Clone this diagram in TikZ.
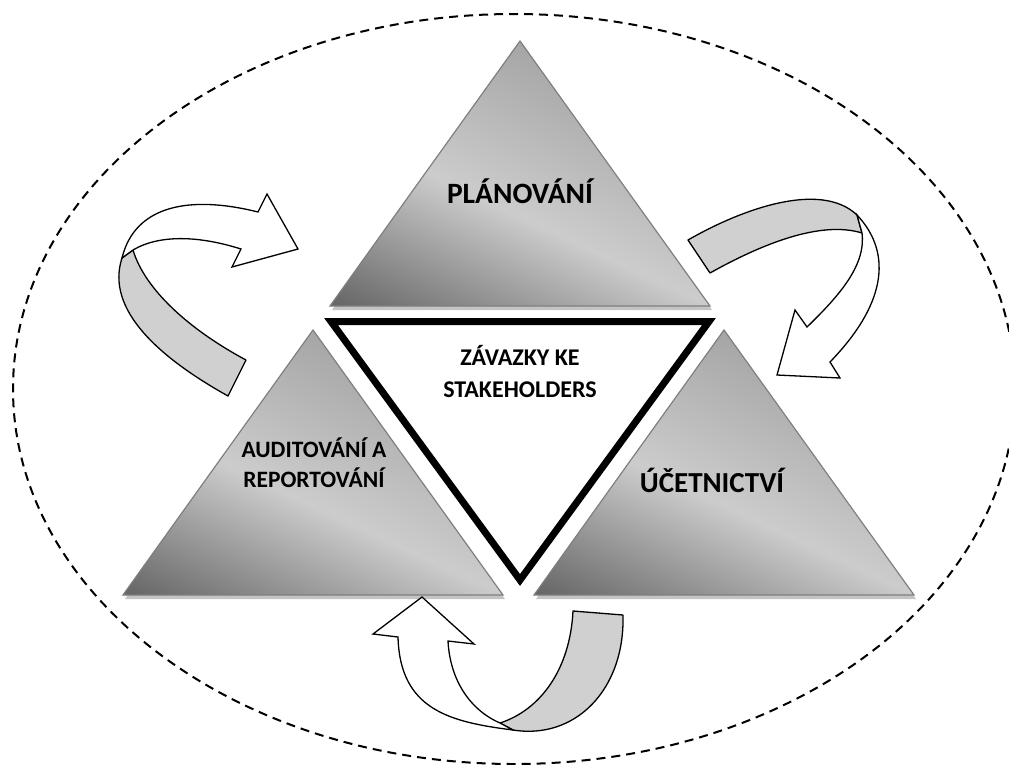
\documentclass[tikz,border=0pt]{standalone}
\usepackage{fontspec}
\setmainfont{Carlito}
\definecolor{tdark}{HTML}{626262}
\definecolor{tlight}{HTML}{CCCCCC}
\definecolor{tmid}{HTML}{A4A4A4}
\definecolor{tedge}{HTML}{7F7F7F}
\definecolor{tshadow}{HTML}{C4C4C4}
\definecolor{bandgray}{HTML}{D0D0D0}
\begin{document}
\begin{tikzpicture}[x=1pt,y=-1pt,
  trishadow/.style={fill=tshadow},
  triedge/.style={draw=tedge, line width=1.2pt, line join=miter},
  band/.style={fill=bandgray, draw=black, line width=1.3pt, line join=round},
  head/.style={fill=white, draw=black, line width=1.3pt, line join=miter},
  lbl/.style={align=center, text=black, inner sep=0pt, anchor=base}
]
\useasboundingbox (0,0) rectangle (1009,764);

% shaded triangle: #1 = bottom-left x, #2 = base y
\newcommand{\gradtri}[2]{%
  \fill[trishadow] ({#1+192},{#2-261}) -- ({#1+382},{#2+4}) -- ({#1+2},{#2+4}) -- cycle;
  \begin{scope}
    \clip ({#1+190},{#2-265}) -- ({#1+380},#2) -- (#1,#2) -- cycle;
    \shade[transform canvas={rotate around={-25:(#1,#2)}},
      bottom color=tdark, top color=tmid, middle color=tlight]
      ({#1-400},{#2+3}) rectangle ({#1+600},{#2-326});
  \end{scope}
  \draw[triedge] ({#1+190},{#2-265}) -- ({#1+380},#2) -- (#1,#2) -- cycle;
}

% dashed ellipse
\draw[line width=2pt, dash pattern=on 9pt off 6pt] (514,389) ellipse [x radius=501, y radius=375];

% gradient triangles
\gradtri{330}{306}
\gradtri{123}{595}
\gradtri{534}{595}

% central inverted triangle
\draw[fill=white, line width=7pt, line join=miter] (331,321.5) -- (709,321.5) -- (520,580) -- cycle;

% labels
\node[lbl, font=\bfseries\fontsize{29.5}{34}\selectfont] (plan) at (520,203) {PLÁNOVÁNÍ};
\node[lbl, font=\bfseries\fontsize{29}{34}\selectfont] (ucet) at (712,492) {ÚČETNICTVÍ};
\node[lbl, font=\bfseries\fontsize{23.5}{30}\selectfont] (audit) at (314,487) {AUDITOVÁNÍ A\\REPORTOVÁNÍ};
\node[lbl, font=\bfseries\fontsize{24}{32}\selectfont] (stake) at (520,397) {ZÁVAZKY KE\\STAKEHOLDERS};

% arrow 1 (left, up-right)
\draw[band] (228,396) -- (246,360) .. controls (190,330) and (145,290) .. (133,250)
  -- (122,258) .. controls (105,310) and (160,358) .. (228,396) -- cycle;
\draw[head] (122,258) .. controls (135,205) and (190,195) .. (258,212)
  -- (267,194) -- (298,249) -- (232,267) -- (241,249)
  .. controls (200,236) and (160,234) .. (133,250) -- cycle;

% arrow 2 (right, down)
\draw[band] (688,240) .. controls (740,210) and (820,180) .. (857,215)
  -- (862,233) .. controls (820,220) and (760,245) .. (710,273) -- cycle;
\draw[head] (857,215) .. controls (890,250) and (890,300) .. (830,362)
  -- (840,378) -- (777,375) -- (795,310) -- (807,327)
  .. controls (840,295) and (866,265) .. (862,233) -- cycle;

% arrow 3 (bottom, up-left)
\draw[band] (573,611) -- (623,615) .. controls (625,690) and (575,740) .. (513,730)
  -- (500,723) .. controls (540,710) and (570,670) .. (573,611) -- cycle;
\draw[head] (513,730) .. controls (450,722) and (400,710) .. (398,637)
  -- (373,634) -- (422,597) -- (474,644) -- (448,641)
  .. controls (450,680) and (470,710) .. (500,723) -- cycle;
\end{tikzpicture}
\end{document}
